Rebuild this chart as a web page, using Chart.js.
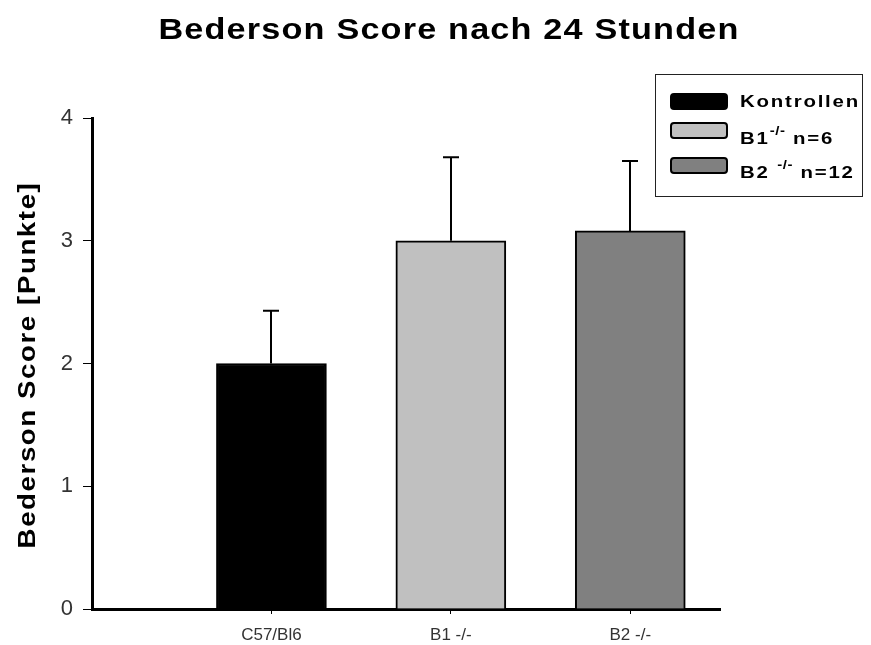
<!DOCTYPE html>
<html>
<head>
<meta charset="utf-8">
<script src="https://cdn.jsdelivr.net/npm/chart.js@4"></script>
<style>
  html, body { margin: 0; padding: 0; background: #fff; }
  #wrap { width: 871px; height: 645px; }
</style>
</head>
<body>
<div id="wrap"><canvas id="canvas" width="871" height="645"></canvas></div>
<script>
const groups = ['C57/Bl6', 'B1 -/-', 'B2 -/-'];
const positions = [1, 2, 3];
const scores = [2.0, 3.0, 3.08];
const errors = [0.43, 0.68, 0.57];
const barColors = ['#000000', '#c0c0c0', '#808080'];
const legendNames = ['Kontrollen', 'B1', 'B2 '];
const legendSup = ['', '-/-', '-/-'];
const legendSuffix = ['', ' n=6', ' n=12'];
const yTicks = [0, 1, 2, 3, 4];

const FONT = '"Liberation Sans", Arial, sans-serif';
const NARROW = '"Liberation Sans Narrow", "Liberation Sans", Arial, sans-serif';

// upper error whiskers
const errorBars = {
  id: 'errorBars',
  afterDatasetsDraw(chart) {
    const { ctx, scales: { x, y } } = chart;
    ctx.save();
    ctx.strokeStyle = '#000';
    ctx.lineWidth = 2;
    scores.forEach((v, i) => {
      const px = Math.round(x.getPixelForValue(positions[i]));
      const top = y.getPixelForValue(v + errors[i]);
      const base = y.getPixelForValue(v);
      ctx.beginPath();
      ctx.moveTo(px, base);
      ctx.lineTo(px, top);
      ctx.moveTo(px - 8, top);
      ctx.lineTo(px + 8, top);
      ctx.stroke();
    });
    ctx.restore();
  }
};

// wide bold lettering: glyphs stretched horizontally
function wideText(ctx, text, x, y, size, stretch, spacing, align) {
  ctx.save();
  ctx.translate(x, y);
  ctx.scale(stretch, 1);
  ctx.font = 'bold ' + size + 'px ' + FONT;
  ctx.letterSpacing = spacing + 'px';
  ctx.textAlign = align;
  ctx.fillText(text, 0, 0);
  const w = ctx.measureText(text).width * stretch;
  ctx.restore();
  return w;
}

// title, rotated axis title and the boxed legend with superscripts
const decorations = {
  id: 'decorations',
  afterDraw(chart) {
    const ctx = chart.ctx;
    ctx.save();
    ctx.fillStyle = '#000';
    ctx.textBaseline = 'alphabetic';

    wideText(ctx, 'Bederson Score nach 24 Stunden', 449, 39, 29, 1.18, 1, 'center');

    ctx.save();
    ctx.translate(35, 365);
    ctx.rotate(-Math.PI / 2);
    wideText(ctx, 'Bederson Score [Punkte]', 0, 0, 24, 1.15, 1.4, 'center');
    ctx.restore();

    // legend box
    ctx.strokeStyle = '#222';
    ctx.lineWidth = 1;
    ctx.strokeRect(655.5, 74.5, 207, 122);
    const rows = [101, 130, 165];
    const baselines = [107, 144, 178];
    legendNames.forEach((name, i) => {
      ctx.fillStyle = barColors[i];
      ctx.strokeStyle = '#000';
      ctx.lineWidth = 2;
      ctx.beginPath();
      ctx.roundRect(671, rows[i] - 7, 56, 15, 3);
      ctx.fill();
      ctx.stroke();
      ctx.fillStyle = '#000';
      let tx = 740;
      tx += wideText(ctx, name, tx, baselines[i], 17, 1.2, 1.5, 'left');
      if (legendSup[i]) {
        tx += wideText(ctx, legendSup[i], tx, baselines[i] - 9, 13, 1.15, 0.5, 'left');
        wideText(ctx, legendSuffix[i], tx, baselines[i], 17, 1.2, 1.5, 'left');
      }
    });
    ctx.restore();
  }
};

new Chart(document.getElementById('canvas'), {
  type: 'bar',
  data: {
    datasets: [{
      data: positions.map((p, i) => ({ x: p, y: scores[i] })),
      backgroundColor: barColors,
      borderColor: '#000',
      borderWidth: 2,
      borderSkipped: 'bottom',
      barThickness: 110
    }]
  },
  options: {
    responsive: false,
    animation: false,
    layout: { padding: { top: 118, right: 151, left: 0, bottom: 0 } },
    plugins: { legend: { display: false }, title: { display: false }, tooltip: { enabled: false } },
    scales: {
      x: {
        type: 'linear',
        min: 0,
        max: 3.5,
        offset: false,
        afterFit: s => { s.height = 36; },
        afterBuildTicks: s => { s.ticks = positions.map(v => ({ value: v })); },
        ticks: {
          callback: v => groups[positions.indexOf(v)] || '',
          font: { family: FONT, size: 17 },
          color: '#333',
          maxRotation: 0,
          padding: 11
        },
        grid: { offset: false, drawOnChartArea: false, drawTicks: true, tickLength: 5, color: '#000', lineWidth: 1 },
        border: { color: '#000', width: 3 }
      },
      y: {
        min: 0,
        max: 4,
        afterFit: s => { s.width = 92; },
        afterBuildTicks: s => { s.ticks = yTicks.map(v => ({ value: v })); },
        ticks: {
          font: { family: NARROW, size: 22 },
          color: '#333',
          padding: 10
        },
        grid: { drawOnChartArea: false, drawTicks: true, tickLength: 9, color: '#000', lineWidth: 1 },
        border: { color: '#000', width: 3 }
      }
    }
  },
  plugins: [errorBars, decorations]
});
</script>
</body>
</html>
